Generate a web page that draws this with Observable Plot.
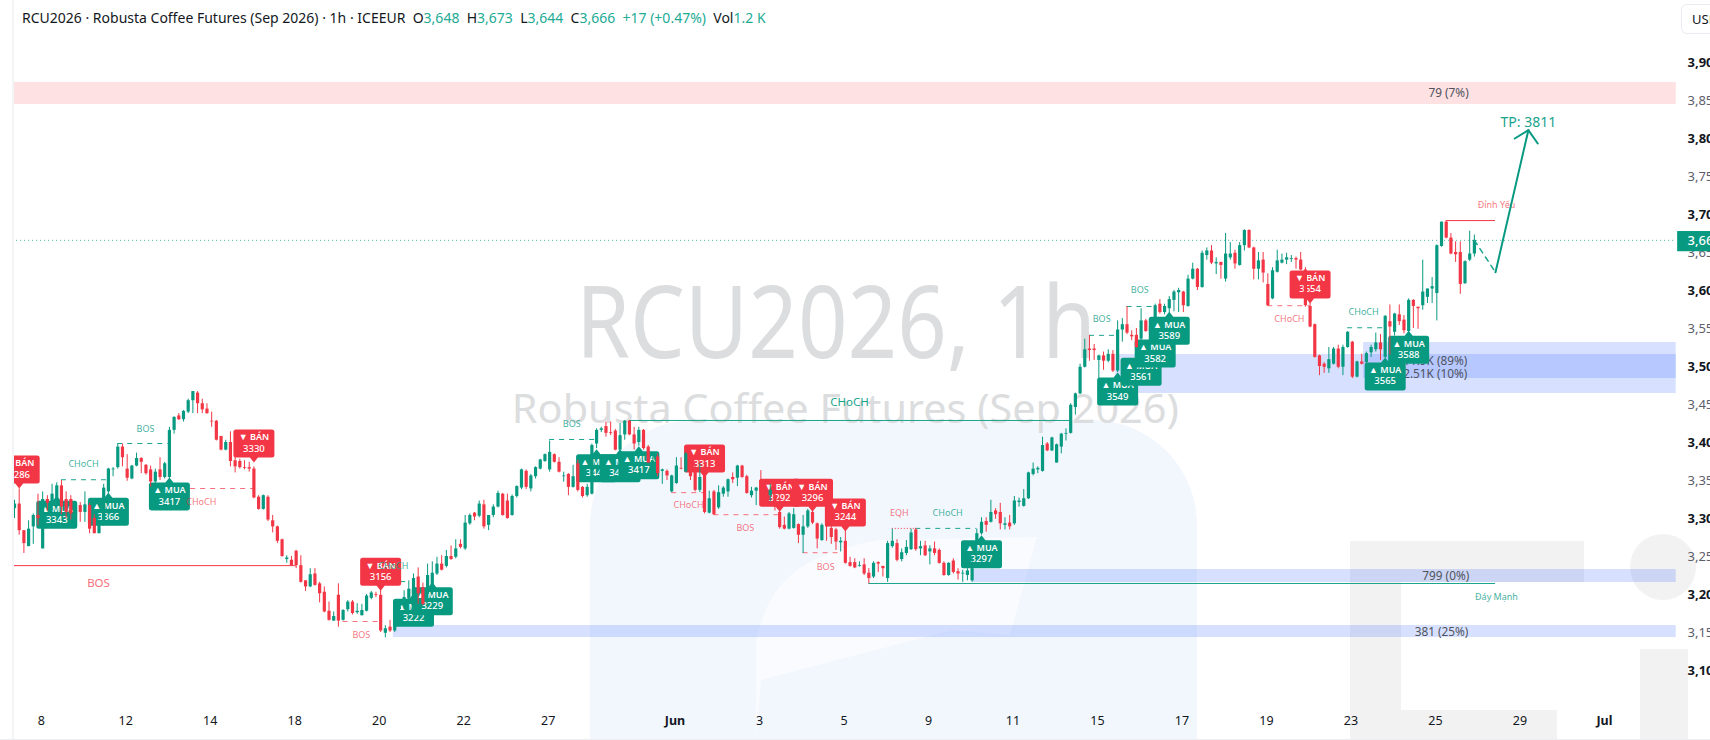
<!DOCTYPE html>
<html lang="vi">
<head>
<meta charset="utf-8">
<title>RCU2026 Robusta Coffee Futures</title>
<script src="https://cdn.jsdelivr.net/npm/d3@7"></script>
<script src="https://cdn.jsdelivr.net/npm/@observablehq/plot@0.6"></script>
<style>
  html,body{margin:0;padding:0;background:#fff;overflow:hidden;width:1710px;height:740px}
  #stage{position:relative;width:1710px;height:740px;overflow:hidden;font-family:"Noto Sans",sans-serif}
  .wm{position:absolute}
  .gray{background:#f2f2f2}
  #chart{position:absolute;left:0;top:0;z-index:1}
  #leftcover{position:absolute;left:0;top:0;width:12px;height:740px;background:#fff;border-right:2px solid #f3f4f6;z-index:2}
  #bottomline{position:absolute;left:0;top:739px;width:1710px;height:1px;background:#eceef2;z-index:2}
  #header{position:absolute;left:22px;top:8px;z-index:3;font-size:14px;line-height:20px;color:#131722;white-space:pre}
  #header b{font-weight:400;color:#22ab94}
  #usd{position:absolute;left:1681px;top:4px;width:60px;height:30px;box-sizing:border-box;border:1px solid #e9ebf0;border-radius:6px;z-index:3;font-size:13px;line-height:28px;padding-left:10px;color:#131722}
</style>
</head>
<body>
<div id="stage">
  <div class="wm" style="left:590px;top:420px;width:607px;height:320px;background:#f2f7fe;border-radius:105px 105px 0 0"></div>
  <div class="wm" style="left:590px;top:420px;width:607px;height:320px;background:#f9fbff;clip-path:path('M166 320 L166 220 C180 160 210 135 290 120 L447 117 L420 215 L362 210 L171 260 Z')"></div>
  <div class="wm gray" style="left:1350px;top:541px;width:234px;height:41px"></div>
  <div class="wm gray" style="left:1350px;top:541px;width:51px;height:199px"></div>
  <div class="wm gray" style="left:1350px;top:710px;width:207px;height:30px"></div>
  <div class="wm gray" style="left:1630px;top:534px;width:66px;height:66px;border-radius:50%"></div>
  <div class="wm gray" style="left:1640px;top:649px;width:48px;height:91px"></div>
  <div id="chart"></div>
  <div id="leftcover"></div>
  <div id="bottomline"></div>
  <div id="header">RCU2026 · Robusta Coffee Futures (Sep 2026) · 1h · ICEEUR  O<b>3,648</b>  H<b>3,673</b>  L<b>3,644</b>  C<b>3,666</b>  <b>+17 (+0.47%)</b>  Vol<b>1.2 K</b></div>
  <div id="usd">USD</div>
</div>
<script>
const opens = [
3313,3319,3284,3263,3289,3304,3260,3325,3320,3323,
3343,3325,3325,3306,3317,3308,3317,3300,3280,3292,
3335,3364,3367,3394,3365,3352,3369,3379,3370,3364,
3348,3364,3354,3354,3416,3435,3430,3440,3455,3465,
3451,3444,3428,3428,3408,3390,3400,3376,3375,3367,
3367,3365,3328,3312,3328,3297,3289,3272,3246,3245,
3257,3238,3218,3210,3227,3214,3203,3178,3165,3199,
3166,3180,3190,3176,3172,3178,3195,3200,3199,3149,
3157,3152,3180,3186,3194,3201,3223,3209,3200,3207,
3227,3240,3237,3250,3249,3266,3260,3293,3307,3303,
3318,3291,3304,3315,3332,3323,3304,3329,3340,3362,
3339,3355,3365,3375,3364,3384,3374,3355,3358,3341,
3372,3341,3330,3332,3398,3416,3421,3413,3415,3390,
3410,3428,3410,3400,3416,3394,3373,3381,3362,3362,
3335,3346,3366,3361,3372,3363,3337,3356,3307,3335,
3314,3332,3335,3354,3353,3369,3355,3330,3336,3350,
3335,3330,3330,3308,3291,3286,3287,3292,3278,3289,
3308,3293,3271,3291,3287,3285,3268,3270,3242,3242,
3237,3239,3228,3223,3242,3237,3221,3263,3267,3246,
3254,3259,3285,3260,3264,3256,3260,3258,3241,3225,
3244,3230,3227,3225,3218,3268,3280,3296,3295,3310,
3308,3291,3294,3293,3321,3316,3326,3358,3364,3362,
3398,3389,3373,3394,3411,3412,3446,3464,3499,3523,
3523,3508,3514,3507,3516,3494,3548,3555,3541,3541,
3536,3560,3546,3560,3582,3571,3576,3587,3597,3598,
3579,3615,3628,3604,3646,3652,3635,3637,3615,3643,
3649,3633,3659,3679,3656,3628,3640,3608,3589,3624,
3636,3640,3641,3642,3640,3627,3579,3555,3514,3503,
3497,3503,3523,3499,3525,3532,3486,3506,3505,3518,
3522,3531,3512,3559,3545,3568,3561,3546,3587,3578,
3580,3591,3602,3596,3658,3690,3669,3650,3650,3609,3640,3648];
const highs = [
3324,3339,3284,3297,3306,3332,3335,3330,3345,3347,
3350,3335,3330,3315,3321,3335,3320,3305,3300,3345,
3366,3367,3398,3398,3384,3370,3386,3380,3371,3369,
3365,3380,3374,3420,3434,3438,3442,3457,3467,3467,
3457,3451,3440,3429,3408,3403,3414,3381,3378,3376,
3374,3368,3330,3331,3330,3304,3290,3273,3251,3250,
3258,3251,3218,3234,3234,3216,3210,3190,3177,3214,
3180,3192,3192,3188,3187,3200,3204,3203,3208,3159,
3166,3185,3190,3205,3218,3227,3235,3215,3240,3243,
3249,3251,3258,3264,3272,3272,3304,3306,3308,3323,
3324,3304,3318,3336,3333,3332,3331,3343,3365,3364,
3358,3368,3378,3385,3402,3385,3380,3361,3359,3370,
3377,3342,3345,3398,3418,3420,3427,3427,3417,3425,
3429,3429,3420,3420,3417,3396,3385,3385,3365,3364,
3357,3380,3380,3387,3374,3370,3372,3360,3336,3337,
3343,3342,3352,3360,3370,3370,3357,3341,3341,3363,
3345,3345,3335,3312,3302,3308,3313,3293,3304,3312,
3311,3294,3293,3300,3290,3287,3275,3283,3249,3247,
3243,3247,3234,3243,3243,3237,3270,3286,3272,3260,
3271,3286,3287,3270,3270,3264,3269,3260,3243,3242,
3247,3234,3232,3234,3250,3286,3301,3301,3324,3313,
3320,3301,3304,3329,3327,3338,3361,3373,3368,3407,
3400,3407,3398,3412,3418,3451,3465,3503,3536,3541,
3529,3515,3519,3522,3521,3560,3563,3579,3547,3550,
3576,3562,3560,3582,3588,3582,3592,3600,3603,3599,
3620,3636,3629,3652,3656,3659,3643,3637,3675,3663,
3653,3663,3680,3680,3657,3650,3650,3622,3630,3653,
3648,3649,3646,3644,3650,3630,3583,3556,3515,3505,
3525,3525,3528,3528,3546,3533,3507,3516,3519,3528,
3544,3542,3567,3581,3570,3581,3567,3589,3588,3578,
3640,3602,3617,3660,3690,3691,3675,3664,3664,3639,3678,3673];
const lows = [
3300,3278,3254,3263,3266,3290,3260,3310,3310,3318,
3305,3300,3298,3295,3295,3295,3280,3280,3280,3290,
3325,3355,3365,3368,3349,3351,3368,3359,3357,3341,
3345,3350,3352,3352,3411,3429,3427,3438,3438,3438,
3438,3437,3420,3402,3389,3389,3368,3360,3365,3364,
3361,3326,3311,3311,3296,3281,3267,3249,3241,3237,
3234,3215,3204,3209,3211,3189,3176,3165,3165,3157,
3165,3177,3173,3174,3172,3177,3193,3196,3150,3143,
3150,3150,3175,3180,3190,3195,3187,3185,3195,3200,
3225,3231,3235,3245,3247,3260,3258,3291,3297,3301,
3286,3284,3301,3314,3303,3299,3303,3327,3338,3338,
3335,3352,3364,3374,3361,3373,3360,3348,3330,3340,
3335,3327,3328,3331,3392,3413,3407,3409,3389,3388,
3403,3409,3390,3395,3390,3372,3365,3355,3345,3350,
3334,3345,3364,3360,3350,3335,3334,3306,3306,3304,
3312,3328,3328,3346,3342,3353,3332,3327,3317,3330,
3325,3322,3310,3286,3285,3285,3286,3267,3254,3287,
3292,3260,3270,3270,3266,3258,3256,3240,3236,3234,
3236,3225,3214,3221,3229,3223,3216,3261,3243,3243,
3251,3258,3257,3251,3250,3239,3251,3240,3224,3224,
3227,3219,3216,3218,3216,3268,3278,3282,3294,3299,
3285,3285,3285,3291,3315,3315,3325,3356,3359,3361,
3388,3388,3373,3385,3402,3411,3436,3463,3498,3507,
3508,3484,3495,3505,3492,3492,3532,3542,3534,3524,
3525,3545,3540,3555,3569,3568,3570,3572,3571,3571,
3578,3614,3600,3603,3640,3634,3621,3615,3611,3640,
3628,3632,3652,3655,3614,3614,3610,3579,3588,3623,
3635,3634,3637,3628,3626,3578,3551,3511,3488,3491,
3491,3502,3497,3488,3524,3484,3485,3502,3504,3512,
3519,3508,3510,3515,3540,3554,3543,3543,3550,3549,
3574,3583,3583,3560,3657,3668,3647,3637,3595,3608,3638,3644];
const closes = [
3319,3284,3267,3286,3304,3300,3325,3320,3332,3343,
3315,3308,3306,3310,3308,3318,3286,3280,3292,3340,
3365,3365,3394,3380,3353,3369,3379,3374,3359,3348,
3361,3354,3372,3416,3433,3430,3441,3455,3467,3451,
3443,3438,3427,3403,3390,3400,3375,3368,3367,3366,
3365,3327,3312,3330,3298,3289,3270,3250,3248,3238,
3238,3216,3210,3226,3212,3201,3177,3166,3171,3165,
3179,3190,3175,3178,3179,3198,3202,3199,3152,3155,
3152,3180,3183,3196,3207,3221,3201,3187,3225,3228,
3240,3232,3250,3246,3260,3262,3294,3304,3302,3319,
3289,3304,3315,3333,3304,3300,3329,3342,3364,3341,
3356,3367,3377,3384,3387,3374,3361,3356,3341,3355,
3337,3329,3341,3396,3416,3418,3412,3412,3390,3409,
3428,3410,3398,3416,3392,3373,3375,3359,3364,3356,
3356,3369,3365,3385,3355,3337,3354,3308,3326,3305,
3334,3340,3351,3351,3369,3354,3333,3336,3340,3335,
3330,3337,3315,3288,3286,3306,3305,3278,3289,3310,
3294,3273,3291,3289,3275,3269,3270,3241,3237,3235,
3238,3227,3221,3241,3240,3234,3267,3270,3245,3255,
3262,3281,3259,3263,3251,3260,3254,3241,3225,3241,
3229,3227,3228,3231,3234,3280,3295,3291,3308,3305,
3293,3293,3289,3323,3323,3326,3360,3365,3366,3396,
3389,3406,3397,3411,3412,3449,3464,3499,3522,3521,
3521,3514,3507,3516,3494,3548,3555,3544,3539,3525,
3560,3546,3552,3580,3571,3579,3588,3598,3600,3580,
3615,3628,3604,3649,3652,3636,3637,3633,3648,3648,
3635,3659,3679,3656,3628,3639,3623,3580,3626,3639,
3640,3643,3642,3640,3627,3580,3552,3512,3500,3499,
3509,3523,3499,3525,3545,3486,3506,3503,3517,3525,
3531,3522,3566,3552,3569,3559,3547,3587,3579,3576,
3598,3602,3605,3659,3690,3669,3648,3647,3608,3638,3648,3666];

const tickBars = [5.7,23.7,41.7,59.7,77.7,95.7,113.7,140.7,158.7,176.7,194.7,212.7,230.7,248.7,266.7,284.7,302.7,320.7,338.7];
const tickNames = ["8","12","14","18","20","22","27","Jun","3","5","9","11","15","17","19","23","25","29","Jul"];
const boldTickNames = ["Jun","Jul"];
const priceMajor = [3100,3200,3300,3400,3500,3600,3700,3800,3900];
const priceMinor = [3150,3250,3350,3450,3550,3650,3750,3850];
const lastPrice = 3666;

const zones = [
  [-0.43,354,3844.7,3873.7,"#f23645"],
  [287.4,354,3484.2,3531.6,"#2962ff"],
  [234.6,354,3464.5,3515.8,"#2962ff"],
  [204,354,3215.8,3232.9,"#2962ff"],
  [80.7,354,3143.4,3159.2,"#2962ff"]
];
const zoneCaptions = [
  ["79 (7%)",305.5,3859],
  ["799 (0%)",304.9,3223.7],
  ["381 (25%)",304,3151]
];
const volumeCaptions = [
  ["11.9K (89%)",309.5,3506.6],
  ["2.51K (10%)",309.5,3489.5]
];
const greenDashes = [[10,20,3351],[22,33,3398.7],[78,84,3217],[114,124,3404],[192,205,3287],[229,235,3541],[237,243,3579],[284,292,3551]];
const redDashes = [[29,51,3339.5],[70,78,3164.5],[140,147,3334],[149,163,3305],[168,176,3255],[267,276,3580]];
const redDots = [[187,192,3287]];
const greenSolids = [[131,225,3429],[182,315.5,3214.5]];
const redSolids = [[-0.4,60,3238],[305,315.5,3692]];
const greenTags = [["CHoCH",14.7,3371],["BOS",27.9,3418],["CHoCH",80.7,3237],["BOS",118.7,3424],["CHoCH",198.8,3306.6],["BOS",231.6,3562],["BOS",239.7,3600],["CHoCH",287.4,3572],["Đáy Mạnh",315.7,3196]];
const redTags = [["CHoCH",39.8,3322],["BOS",73.9,3147],["CHoCH",143.6,3317],["BOS",155.7,3287],["BOS",172.8,3235.5],["EQH",188.5,3306.6],["CHoCH",271.6,3563],["Đỉnh Yếu",315.7,3712]];
const bigGreenTags = [["CHoCH",177.9,3452.6]];
const bigRedTags = [["BOS",17.9,3214.5]];
const signals = [
  ["sell",1,3339.5,3286],["buy",9,3330,3343],["buy",20,3334,3366],["buy",33,3354,3417],
  ["sell",51,3373.7,3330],["sell",78,3205,3156],["buy",85,3201,3222],["buy",89,3216,3229],
  ["buy",124,3391,3441],["buy",129,3391,3432],["buy",133,3395,3417],["sell",147,3354,3313],
  ["sell",163,3309,3292],["sell",170,3309,3296],["sell",177,3283,3244],["buy",206,3278,3297],
  ["buy",235,3492,3549],["buy",240,3518,3561],["buy",243,3542,3582],["buy",246,3572,3589],
  ["sell",276,3583,3654],["buy",292,3512,3565],["buy",297,3547,3588]
];
const arrowShaftBars = [315.5,322.5];
const arrowShaftPrices = [3624,3811];
const arrowHeadBars = [319.6,322.5,324.5];
const arrowHeadPrices = [3800,3811,3793.4];
const pullbackBars = [311,315.5];
const pullbackPrices = [3666,3624];

const GREEN = "#089981", RED = "#f23645", FONT = '"Noto Sans",sans-serif';
const bars = opens.map((o,i)=>({i,o,h:highs[i],l:lows[i],c:closes[i],col:closes[i]>=o?GREEN:RED}));
const FW=20.5, BOX=28, TIP=5, R=2.5, PW=4;
function boxPath(c,y0){
  const y1=y0+BOX;
  c.moveTo(-FW+R,y0);
  if(y0>0){c.lineTo(-PW,y0);c.lineTo(0,0);c.lineTo(PW,y0);}
  c.lineTo(FW-R,y0);c.arcTo(FW,y0,FW,y0+R,R);
  c.lineTo(FW,y1-R);c.arcTo(FW,y1,FW-R,y1,R);
  if(y0<0){c.lineTo(PW,y1);c.lineTo(0,0);c.lineTo(-PW,y1);}
  c.lineTo(-FW+R,y1);c.arcTo(-FW,y1,-FW,y1-R,R);
  c.lineTo(-FW,y0+R);c.arcTo(-FW,y0,-FW+R,y0,R);
  c.closePath();
}
const sellShape={draw(c){boxPath(c,-(BOX+TIP));}};
const buyShape={draw(c){boxPath(c,TIP);}};

const segMarks=(rows,opts)=>Plot.ruleY(rows,{x1:d=>d[0],x2:d=>d[1],y:d=>d[2],...opts});
const tagMarks=(rows,color,size,op)=>Plot.text(rows,{text:d=>d[0],x:d=>d[1],y:d=>d[2],fill:color,fontSize:size,fontFamily:FONT,fillOpacity:op});

const signalMarks=signals.flatMap(([k,bar,tip,val])=>{
  const sell=k==="sell", d=[{bar,tip}];
  const color=sell?RED:GREEN;
  const top=sell?-(BOX+TIP):TIP;
  return [
    Plot.dot(d,{x:"bar",y:"tip",r:1,symbol:sell?sellShape:buyShape,fill:color,stroke:"none"}),
    Plot.text(d,{x:"bar",y:"tip",text:()=>sell?"▼ BÁN":"▲ MUA",dy:top+8,fill:"#fff",fontSize:9,fontWeight:600,fontFamily:FONT}),
    Plot.text(d,{x:"bar",y:"tip",text:()=>String(val),dy:top+19,fill:"#fff",fontSize:9.5,fontWeight:500,fontFamily:FONT})
  ];
});

const fig=Plot.plot({
  width:1710,height:740,marginTop:0,marginLeft:0,marginRight:23,marginBottom:24,
  style:{background:"transparent",overflow:"hidden"},
  x:{domain:[-2.983,361.3],range:[0,1710],axis:null},
  y:{domain:[3007.9,3981.6],range:[740,0],axis:null},
  marks:[
    Plot.text([{x:175,y:3553}],{x:"x",y:"y",text:()=>"RCU2026, 1h",fontSize:100,fill:"#dcddde",fontFamily:FONT}),
    Plot.text([{x:177,y:3443}],{x:"x",y:"y",text:()=>"Robusta Coffee Futures (Sep 2026)",fontSize:40,fill:"#dcddde",fontFamily:FONT}),
    Plot.rect(zones,{x1:d=>d[0],x2:d=>d[1],y1:d=>d[2],y2:d=>d[3],fill:d=>d[4],fillOpacity:d=>d[4]===RED?.15:.19}),
    Plot.ruleY([lastPrice],{x1:-0.4,x2:354,stroke:GREEN,strokeOpacity:.75,strokeDasharray:"1 3"}),
    segMarks(greenDashes,{stroke:"#1aa38c",strokeDasharray:"5 5"}),
    segMarks(redDashes,{stroke:"#f6707c",strokeDasharray:"5 5"}),
    segMarks(redDots,{stroke:RED,strokeDasharray:"1 2"}),
    segMarks(greenSolids,{stroke:"#1aa38c"}),
    segMarks(redSolids,{stroke:RED}),
    Plot.text(zoneCaptions,{text:d=>d[0],x:d=>d[1],y:d=>d[2],fill:"#50535e",fontSize:11.8,fontFamily:FONT}),
    Plot.text(volumeCaptions,{text:d=>d[0],x:d=>d[1],y:d=>d[2],textAnchor:"end",fill:"#50535e",fontSize:11.8,fontFamily:FONT}),
    ...signalMarks,
    tagMarks(greenTags,"#1aa38c",9,.85),
    tagMarks(redTags,RED,9,.7),
    tagMarks(bigGreenTags,"#1aa38c",11.5,1),
    tagMarks(bigRedTags,"#f6707c",11.5,1),
    Plot.ruleX(bars,{x:"i",y1:"l",y2:"h",stroke:"col",strokeWidth:1}),
    Plot.ruleX(bars,{x:"i",y1:"o",y2:"c",stroke:"col",strokeWidth:3.2}),
    Plot.line(pullbackBars.map((x,i)=>({x,y:pullbackPrices[i]})),{x:"x",y:"y",stroke:"#1aa38c",strokeDasharray:"5 5"}),
    Plot.line(arrowShaftBars.map((x,i)=>({x,y:arrowShaftPrices[i]})),{x:"x",y:"y",stroke:GREEN,strokeWidth:2}),
    Plot.line(arrowHeadBars.map((x,i)=>({x,y:arrowHeadPrices[i]})),{x:"x",y:"y",stroke:GREEN,strokeWidth:2}),
    Plot.text([{x:322.5,y:3821}],{x:"x",y:"y",text:()=>"TP: 3811",fill:"#1aa38c",fontSize:14,fontFamily:FONT}),
    Plot.axisY({anchor:"right",ticks:priceMinor,tickFormat:d3.format(","),tickSize:0,tickPadding:0,label:null,fontSize:13,fontFamily:FONT,color:"#5d606b"}),
    Plot.axisY({anchor:"right",ticks:priceMajor,tickFormat:d3.format(","),tickSize:0,tickPadding:0,label:null,fontSize:13,fontWeight:700,fontFamily:FONT,color:"#131722"}),
    Plot.rect([lastPrice],{x1:354.3,x2:361.3,y1:3651,y2:3677.6,fill:GREEN}),
    Plot.text([lastPrice],{x:356.4,y:d=>d,text:d3.format(","),textAnchor:"start",fill:"#fff",fontSize:13,fontWeight:500,fontFamily:FONT}),
    Plot.axisX({anchor:"bottom",ticks:tickBars.filter((_,i)=>!boldTickNames.includes(tickNames[i])),tickFormat:v=>tickNames[tickBars.indexOf(v)],tickSize:0,tickPadding:0,label:null,fontSize:12.5,fontFamily:FONT,color:"#131722"}),
    Plot.axisX({anchor:"bottom",ticks:tickBars.filter((_,i)=>boldTickNames.includes(tickNames[i])),tickFormat:v=>tickNames[tickBars.indexOf(v)],tickSize:0,tickPadding:0,label:null,fontSize:12.5,fontWeight:700,fontFamily:FONT,color:"#131722"})
  ]
});
document.getElementById("chart").appendChild(fig);
const squeeze=(content,len)=>[...fig.querySelectorAll("text")].filter(t=>t.textContent===content).forEach(t=>{t.setAttribute("textLength",len);t.setAttribute("lengthAdjust","spacingAndGlyphs");});
squeeze("RCU2026, 1h",520);squeeze("Robusta Coffee Futures (Sep 2026)",667);
</script>
</body>
</html>
